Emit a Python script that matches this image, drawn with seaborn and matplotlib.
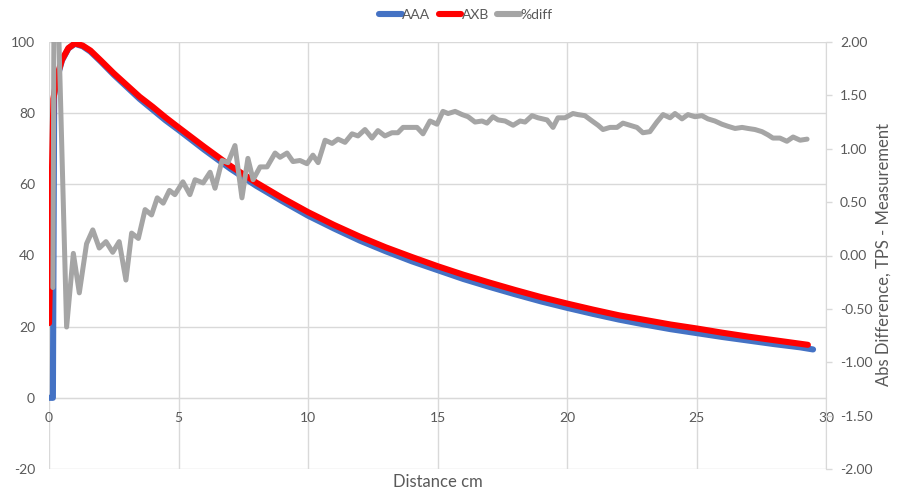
import matplotlib
matplotlib.use("Agg")
import matplotlib.pyplot as plt
import seaborn as sns
import pandas as pd
from matplotlib.lines import Line2D

# ---------------- data ----------------
axb_x = [0, 0.17, 0.3, 0.5, 0.75, 1.0, 1.3, 1.6, 2.0, 2.5, 3.0, 3.5, 4.0, 4.5, 5, 6, 7, 8, 9, 10,
         11, 12, 13, 14, 15, 16, 17, 18, 19, 20, 21, 22, 23, 24, 25, 26, 27, 28, 29, 29.3]
axb_y = [21, 84, 90, 95, 98.3, 99.6, 99.0, 97.6, 94.8, 91.2, 87.9, 84.6, 81.8, 78.8, 76.0, 70.5, 65.2,
         60.5, 56.2, 52.2, 48.6, 45.3, 42.3, 39.6, 37.0, 34.6, 32.4, 30.3, 28.3, 26.5, 24.8, 23.2,
         21.9, 20.6, 19.5, 18.3, 17.2, 16.2, 15.2, 14.9]

aaa_x = [0, 0.1, 0.15, 0.2, 0.3, 0.5, 0.75, 1.0, 1.3, 1.6, 2.0, 2.5, 3.0, 3.5, 4.0, 4.5, 5, 6, 7, 8, 9,
         10, 11, 12, 13, 14, 15, 16, 17, 18, 19, 20, 21, 22, 23, 24, 25, 26, 27, 28, 29, 29.5]
aaa_y = [0, 0, 0, 85, 89.5, 94.8, 98.2, 99.5, 98.8, 97.3, 94.5, 90.8, 87.4, 84.0, 81.0, 78.0, 75.3,
         69.7, 64.4, 59.6, 55.3, 51.2, 47.6, 44.2, 41.2, 38.4, 35.9, 33.4, 31.2, 29.1, 27.1, 25.3,
         23.6, 22.0, 20.6, 19.3, 18.2, 17.1, 16.1, 15.1, 14.2, 13.6]

diff_x = [0.15, 0.22, 0.33, 0.68, 0.94, 1.17, 1.45, 1.69, 1.94, 2.20, 2.46, 2.71, 2.97, 3.19, 3.45,
          3.71, 3.96, 4.18, 4.41, 4.65, 4.86, 5.17, 5.44, 5.64, 5.95, 6.22, 6.41, 6.68, 6.91, 7.18,
          7.45, 7.68, 7.88, 8.15, 8.42, 8.73, 8.92, 9.19, 9.42, 9.69, 9.96, 10.19, 10.39, 10.66,
          10.93, 11.16, 11.43, 11.70, 11.93, 12.20, 12.47, 12.70, 12.97, 13.24, 13.47, 13.67, 13.94,
          14.21, 14.44, 14.71, 14.98, 15.21, 15.41, 15.68, 15.95, 16.18, 16.45, 16.72, 16.91, 17.14,
          17.34, 17.61, 17.92, 18.19, 18.38, 18.65, 18.88, 19.23, 19.46, 19.65, 19.92, 20.23, 20.42,
          20.69, 20.97, 21.20, 21.39, 21.66, 21.93, 22.16, 22.43, 22.70, 22.93, 23.20, 23.47, 23.71,
          23.98, 24.17, 24.44, 24.67, 24.94, 25.21, 25.44, 25.71, 25.98, 26.22, 26.49, 26.76, 26.99,
          27.26, 27.53, 27.76, 27.95, 28.22, 28.49, 28.73, 29.00, 29.27]
diff_y = [-0.30, 4.0, 2.5, -0.67, 0.02, -0.35, 0.11, 0.24, 0.07, 0.13, 0.03, 0.13, -0.23, 0.21, 0.16,
          0.43, 0.38, 0.54, 0.49, 0.61, 0.57, 0.69, 0.57, 0.71, 0.68, 0.78, 0.63, 0.89, 0.87, 1.03,
          0.54, 0.91, 0.71, 0.83, 0.83, 0.96, 0.92, 0.96, 0.88, 0.89, 0.86, 0.94, 0.87, 1.08,
          1.05, 1.09, 1.06, 1.14, 1.12, 1.18, 1.10, 1.17, 1.12, 1.15, 1.15, 1.20, 1.20,
          1.20, 1.14, 1.26, 1.23, 1.35, 1.33, 1.35, 1.32, 1.30, 1.25, 1.26, 1.24, 1.30,
          1.27, 1.26, 1.22, 1.26, 1.25, 1.31, 1.29, 1.27, 1.20, 1.29, 1.29, 1.33, 1.32,
          1.31, 1.26, 1.22, 1.18, 1.20, 1.20, 1.24, 1.22, 1.20, 1.15, 1.16, 1.25, 1.32,
          1.29, 1.33, 1.28, 1.32, 1.30, 1.31, 1.28, 1.26, 1.23, 1.21, 1.19, 1.20, 1.19,
          1.18, 1.16, 1.13, 1.10, 1.10, 1.07, 1.11, 1.08, 1.09]

series_names = ["AAA", "AXB", "%diff"]
left_ticks = [-20, 0, 20, 40, 60, 80, 100]
right_ticks = [-2.0, -1.5, -1.0, -0.5, 0.0, 0.5, 1.0, 1.5, 2.0]
x_ticks = [0, 5, 10, 15, 20, 25, 30]

# ---------------- style ----------------
sns.set_style("white")
plt.rcParams["font.family"] = ["Lato", "DejaVu Sans"]
TXT = "#595959"
GRID = "#D9D9D9"
C_AAA = "#4472C4"
C_AXB = "#FF0000"
C_DIFF = "#A5A5A5"
LW_MAIN = 4.4
LW_DIFF = 3.6

fig = plt.figure(figsize=(9.06, 4.93), dpi=100)
ax = fig.add_axes([49 / 906, 1 - 469 / 493, (826 - 49) / 906, (469 - 42) / 493])

df_aaa = pd.DataFrame({"x": aaa_x, "y": aaa_y})
df_axb = pd.DataFrame({"x": axb_x, "y": axb_y})
df_diff = pd.DataFrame({"x": diff_x, "y": diff_y})

sns.lineplot(data=df_aaa, x="x", y="y", ax=ax, color=C_AAA, linewidth=LW_MAIN,
             estimator=None, sort=False, solid_capstyle="round", zorder=3)
sns.lineplot(data=df_axb, x="x", y="y", ax=ax, color=C_AXB, linewidth=LW_MAIN,
             estimator=None, sort=False, solid_capstyle="round", zorder=4)

ax.set_xlim(0, 30)
ax.set_ylim(-20, 100)
ax.set_xticks(x_ticks)
ax.set_yticks(left_ticks)
ax.set_xticklabels([str(t) for t in x_ticks])
ax.set_yticklabels([str(t) for t in left_ticks])
ax.grid(True, color=GRID, linewidth=1.0)
ax.set_axisbelow(True)
ax.set_xlabel("")
ax.set_ylabel("")
for s in ["top", "right", "left"]:
    ax.spines[s].set_visible(False)
ax.spines["bottom"].set_position(("data", 0))
ax.spines["bottom"].set_color(GRID)
ax.tick_params(axis="x", length=0, pad=10.5, labelsize=10, labelcolor=TXT)
ax.tick_params(axis="y", length=0, pad=10, labelsize=10, labelcolor=TXT)

ax2 = ax.twinx()
sns.lineplot(data=df_diff, x="x", y="y", ax=ax2, color=C_DIFF, linewidth=LW_DIFF,
             estimator=None, sort=False, solid_joinstyle="round", solid_capstyle="round")
ax2.set_ylim(-2, 2)
ax2.set_yticks(right_ticks)
ax2.set_yticklabels([f"{t:.2f}" for t in right_ticks])
ax2.set_ylabel("")
for s in ["top", "left", "bottom"]:
    ax2.spines[s].set_visible(False)
ax2.spines["right"].set_color(GRID)
ax2.tick_params(axis="y", length=4, width=1, color=GRID, pad=6, labelsize=10, labelcolor=TXT)

fig.text(437.5 / 906, 1 - 482 / 493, "Distance cm", ha="center", va="center",
         fontsize=12, color=TXT)
fig.text(884 / 906, 1 - 255 / 493, "Abs Difference, TPS - Measurement", ha="center",
         va="center", rotation=90, fontsize=12, color=TXT)

handles = [Line2D([], [], color=C_AAA, linewidth=LW_MAIN, solid_capstyle="round"),
           Line2D([], [], color=C_AXB, linewidth=LW_MAIN, solid_capstyle="round"),
           Line2D([], [], color=C_DIFF, linewidth=LW_MAIN, solid_capstyle="round")]
fig.legend(handles, series_names, loc="center", bbox_to_anchor=(466 / 906, 1 - 15 / 493),
           ncol=3, frameon=False, fontsize=10, labelcolor=TXT, handlelength=1.6,
           handletextpad=0.05, columnspacing=0.6, borderaxespad=0)

fig.savefig("out.png", dpi=100)
